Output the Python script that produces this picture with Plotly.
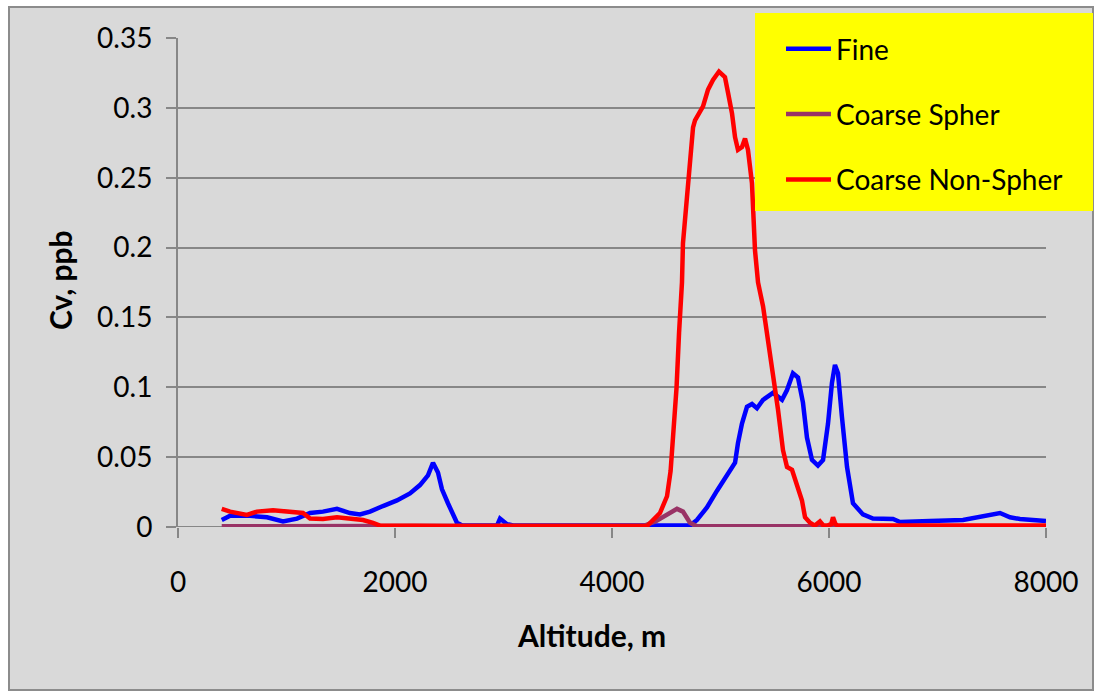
import plotly.graph_objects as go

# Fine mode volume concentration vs altitude
fine_alt = [403, 480, 664, 820, 968, 1097, 1217, 1336, 1465, 1585, 1677, 1770, 1889, 2018,
            2138, 2230, 2304, 2350, 2396, 2433, 2488, 2534, 2571, 2620, 2940, 2968, 3000,
            3032, 3100, 4400, 4600, 4719, 4783, 4875, 4968, 5041, 5134, 5161, 5198, 5244,
            5290, 5336, 5392, 5484, 5567, 5613, 5668, 5714, 5760, 5797, 5843, 5898, 5945,
            5991, 6027, 6055, 6083, 6119, 6166, 6221, 6313, 6405, 6590, 6655, 6903, 6931,
            7235, 7392, 7576, 7668, 7760, 8000]
fine_cv = [0.005, 0.008, 0.008, 0.007, 0.004, 0.006, 0.010, 0.011, 0.013, 0.010, 0.009, 0.011,
           0.015, 0.019, 0.024, 0.030, 0.037, 0.046, 0.039, 0.027, 0.017, 0.010, 0.003, 0.001,
           0.001, 0.006, 0.004, 0.002, 0.001, 0.001, 0.0005, 0.001, 0.005, 0.014, 0.026, 0.035,
           0.046, 0.060, 0.074, 0.086, 0.088, 0.085, 0.091, 0.096, 0.091, 0.098, 0.110, 0.107,
           0.089, 0.064, 0.048, 0.044, 0.048, 0.074, 0.103, 0.116, 0.110, 0.079, 0.043, 0.017,
           0.009, 0.006, 0.0057, 0.0036, 0.0036, 0.0043, 0.005, 0.007, 0.010, 0.007, 0.0057,
           0.0043]

# Coarse spherical mode
csph_alt = [403, 2500, 3000, 4300, 4400, 4470, 4550, 4599, 4654, 4690, 4719, 4783, 8000]
csph_cv = [0.0005, 0.0005, 0.0008, 0.001, 0.004, 0.007, 0.011, 0.013, 0.011, 0.006, 0.003,
           0.0005, 0.0005]

# Coarse non-spherical mode
cns_alt = [403, 480, 635, 727, 876, 1032, 1152, 1217, 1336, 1465, 1585, 1705, 1797, 1862,
           2500, 4323, 4442, 4507, 4540, 4565, 4595, 4618, 4645, 4654, 4691, 4719, 4747,
           4765, 4839, 4885, 4931, 4986, 5041, 5069, 5106, 5134, 5161, 5198, 5226, 5253,
           5290, 5318, 5346, 5392, 5438, 5484, 5530, 5576, 5613, 5659, 5705, 5751, 5779,
           5825, 5870, 5917, 5950, 5982, 6020, 6037, 6060, 6083, 8000]
cns_cv = [0.013, 0.011, 0.0086, 0.011, 0.012, 0.011, 0.010, 0.006, 0.0057, 0.007, 0.006,
          0.005, 0.003, 0.001, 0.0007, 0.0007, 0.010, 0.022, 0.040, 0.067, 0.100, 0.139,
          0.175, 0.203, 0.234, 0.258, 0.286, 0.291, 0.301, 0.313, 0.320, 0.326, 0.322, 0.311,
          0.296, 0.279, 0.270, 0.272, 0.278, 0.270, 0.246, 0.198, 0.175, 0.158, 0.134, 0.110,
          0.084, 0.055, 0.043, 0.041, 0.029, 0.019, 0.007, 0.003, 0.001, 0.004, 0.001, 0.001,
          0.002, 0.007, 0.002, 0.001, 0.001]

x_ticks = [0, 2000, 4000, 6000, 8000]
y_ticks = [0, 0.05, 0.1, 0.15, 0.2, 0.25, 0.3, 0.35]
y_labels = ["0", "0.05", "0.1", "0.15", "0.2", "0.25", "0.3", "0.35"]

FONT = "Lato, 'Open Sans', sans-serif"
BG = "#d9d9d9"
GRID = "#878787"

fig = go.Figure()
fig.add_trace(go.Scatter(x=fine_alt, y=fine_cv, mode="lines", name="Fine",
                         line=dict(color="#0000ff", width=4.5), legendgroup="a"))
fig.add_trace(go.Scatter(x=csph_alt, y=csph_cv, mode="lines", name="Coarse Spher",
                         line=dict(color="#993366", width=4.5), legendgroup="b"))
fig.add_trace(go.Scatter(x=cns_alt, y=cns_cv, mode="lines", name="Coarse Non-Spher",
                         line=dict(color="#ff0000", width=4.5), legendgroup="c"))

W, H = 1096, 693
L, R, T, B = 178, 50, 38, 166
pw, ph = W - L - R, H - T - B


def px_x(p):
    return (p - L) / pw


def px_y(p):
    return (H - B - p) / ph


shapes = [
    # chart area background with border
    dict(type="rect", xref="paper", yref="paper", layer="below",
         x0=px_x(9), x1=px_x(1093), y0=px_y(690), y1=px_y(7),
         fillcolor=BG, line=dict(color="#8c8c8c", width=2)),
    # legend box
    dict(type="rect", xref="paper", yref="paper", layer="above",
         x0=px_x(755), x1=px_x(1093), y0=px_y(211), y1=px_y(13),
         fillcolor="#ffff00", line=dict(width=0)),
]

fig.update_layout(
    width=W, height=H,
    margin=dict(l=L, r=R, t=T, b=B),
    paper_bgcolor="white",
    plot_bgcolor=BG,
    shapes=shapes,
    font=dict(family=FONT, color="black"),
    showlegend=True,
    legend=dict(x=px_x(781), y=px_y(24), xanchor="left", yanchor="top",
                bgcolor="rgba(0,0,0,0)", font=dict(size=28, family=FONT),
                tracegroupgap=26, itemwidth=45),
    xaxis=dict(range=[0, 8000], tickvals=x_ticks, ticktext=[str(v) for v in x_ticks],
               showgrid=False, zeroline=False, showline=False,
               ticks="outside", ticklen=10, tickwidth=2, tickcolor=GRID,
               tickfont=dict(size=28, family=FONT), ticklabelstandoff=20),
    yaxis=dict(range=[0, 0.35], tickvals=y_ticks, ticktext=y_labels,
               showgrid=True, gridcolor=GRID, gridwidth=2, zeroline=False,
               showline=True, linecolor=GRID, linewidth=2,
               ticks="outside", ticklen=10, tickwidth=2, tickcolor=GRID,
               tickfont=dict(size=28, family=FONT), ticklabelstandoff=8),
    annotations=[
        dict(text="<b>Altitude, m</b>", xref="paper", yref="paper",
             x=px_x(591), y=px_y(655), showarrow=False,
             font=dict(size=30, family=FONT)),
        dict(text="<b>Cv, ppb</b>", xref="paper", yref="paper",
             x=px_x(40), y=px_y(280), showarrow=False, textangle=-90,
             font=dict(size=30, family=FONT)),
    ],
)

# x axis baseline
fig.add_hline(y=0, line=dict(color=GRID, width=2), layer="below")

fig.write_html("out.html")
